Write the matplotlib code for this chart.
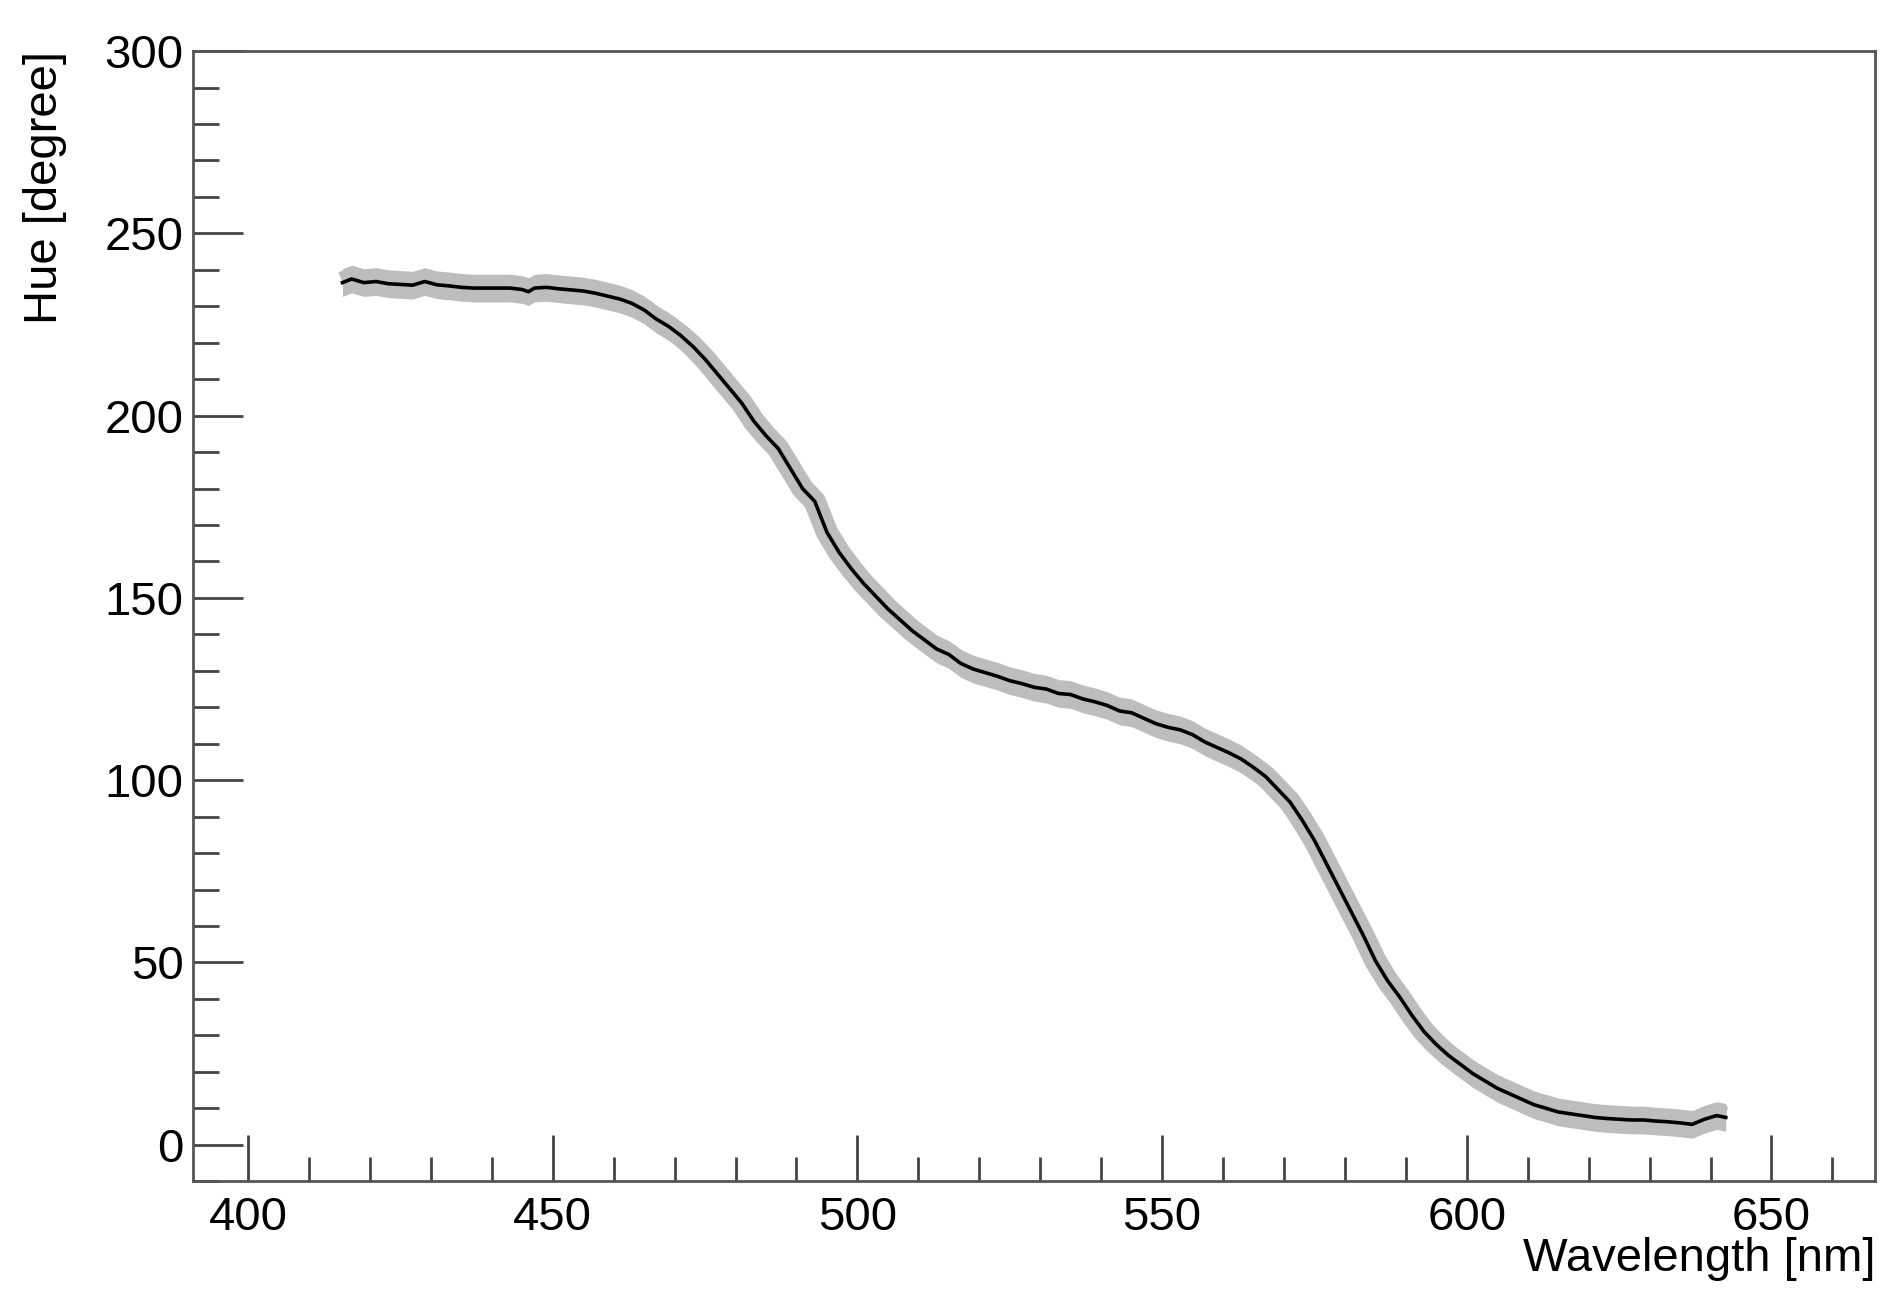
import matplotlib
matplotlib.use("Agg")
from matplotlib import pyplot as plt
from matplotlib.ticker import MultipleLocator
import numpy as np

plt.rcParams['font.family'] = ['Liberation Sans', 'DejaVu Sans']

# wavelength [nm] and hue [degree]
wavelength = [415.5, 417, 419, 421, 423, 425, 427, 429, 431, 433, 435, 437, 439, 441, 443,
              445, 446, 447, 449, 451, 453, 455, 457, 459, 461, 463, 465, 467, 469, 471,
              473, 475, 477, 479, 481, 483, 485, 487, 489, 491, 493, 495, 497, 499, 501,
              503, 505, 507, 509, 511, 513, 515, 517, 519, 521, 523, 525, 527, 529, 531,
              533, 535, 537, 539, 541, 543, 545, 547, 549, 551, 553, 555, 557, 559, 561,
              563, 565, 567, 569, 571, 573, 575, 577, 579, 581, 583, 585, 587, 589, 591,
              593, 595, 597, 599, 601, 603, 605, 607, 609, 611, 613, 615, 617, 619, 621,
              623, 625, 627, 629, 631, 633, 635, 637, 639, 641, 642.5]
hue = [236.5, 237.5, 236.5, 236.8, 236.2, 236.0, 235.8, 236.8, 235.9, 235.6, 235.2, 235.0, 235.0, 235.0, 235.0,
       234.6, 234.0, 235.0, 235.2, 234.8, 234.5, 234.2, 233.6, 232.8, 232.0, 230.8, 229.0, 226.5, 224.5, 222.0,
       219.0, 215.5, 211.5, 207.5, 203.5, 198.5, 194.5, 191.0, 185.5, 180.0, 176.5, 168.0, 162.5, 158.0, 154.0,
       150.5, 147.0, 144.0, 141.0, 138.5, 136.0, 134.5, 132.0, 130.5, 129.5, 128.5, 127.3, 126.5, 125.5, 125.0,
       123.8, 123.5, 122.3, 121.5, 120.5, 119.0, 118.5, 117.0, 115.5, 114.5, 113.8, 112.5, 110.5, 109.0, 107.5,
       105.8, 103.5, 101.0, 97.5, 94.0, 89.0, 83.5, 77.0, 70.5, 64.0, 57.5, 50.5, 45.0, 40.5, 35.5,
       31.0, 27.5, 24.5, 22.0, 19.5, 17.5, 15.5, 14.0, 12.5, 11.0, 10.0, 9.0, 8.5, 8.0, 7.5,
       7.2, 7.0, 6.8, 6.8, 6.5, 6.3, 6.0, 5.6, 7.0, 8.0, 7.5]
hue_err = 3.8

wavelength = np.array(wavelength)
hue = np.array(hue)

fig = plt.figure(figsize=(18.94, 13.11), dpi=100)
ax = fig.add_axes([0.102, 0.099, 0.888, 0.862])

# error band and central line
ax.fill_between(wavelength, hue - hue_err, hue + hue_err, color='#bdbdbd', lw=0)
ax.plot(wavelength, hue, color='#bdbdbd', lw=16, solid_capstyle='butt')
ax.plot(wavelength, hue, color='black', lw=2.6)

ax.set_xlim(391, 667)
ax.set_ylim(-10, 300)

ax.xaxis.set_major_locator(MultipleLocator(50))
ax.xaxis.set_minor_locator(MultipleLocator(10))
ax.yaxis.set_major_locator(MultipleLocator(50))
ax.yaxis.set_minor_locator(MultipleLocator(10))

ax.tick_params(axis='both', which='both', direction='in', colors='#444444',
               labelcolor='black', labelsize=34, width=2)
ax.tick_params(axis='y', which='major', length=36, pad=7)
ax.tick_params(axis='y', which='minor', length=19)
ax.tick_params(axis='x', which='major', length=33, pad=11)
ax.tick_params(axis='x', which='minor', length=17)

for side in ax.spines.values():
    side.set_color('#555555')
    side.set_linewidth(2)

fig.text(0.0235, 0.961, 'Hue [degree]', rotation=90, ha='center', va='top', fontsize=34)
fig.text(0.99, 0.04, 'Wavelength [nm]', ha='right', va='center', fontsize=34)

fig.savefig('out.png', dpi=100)
